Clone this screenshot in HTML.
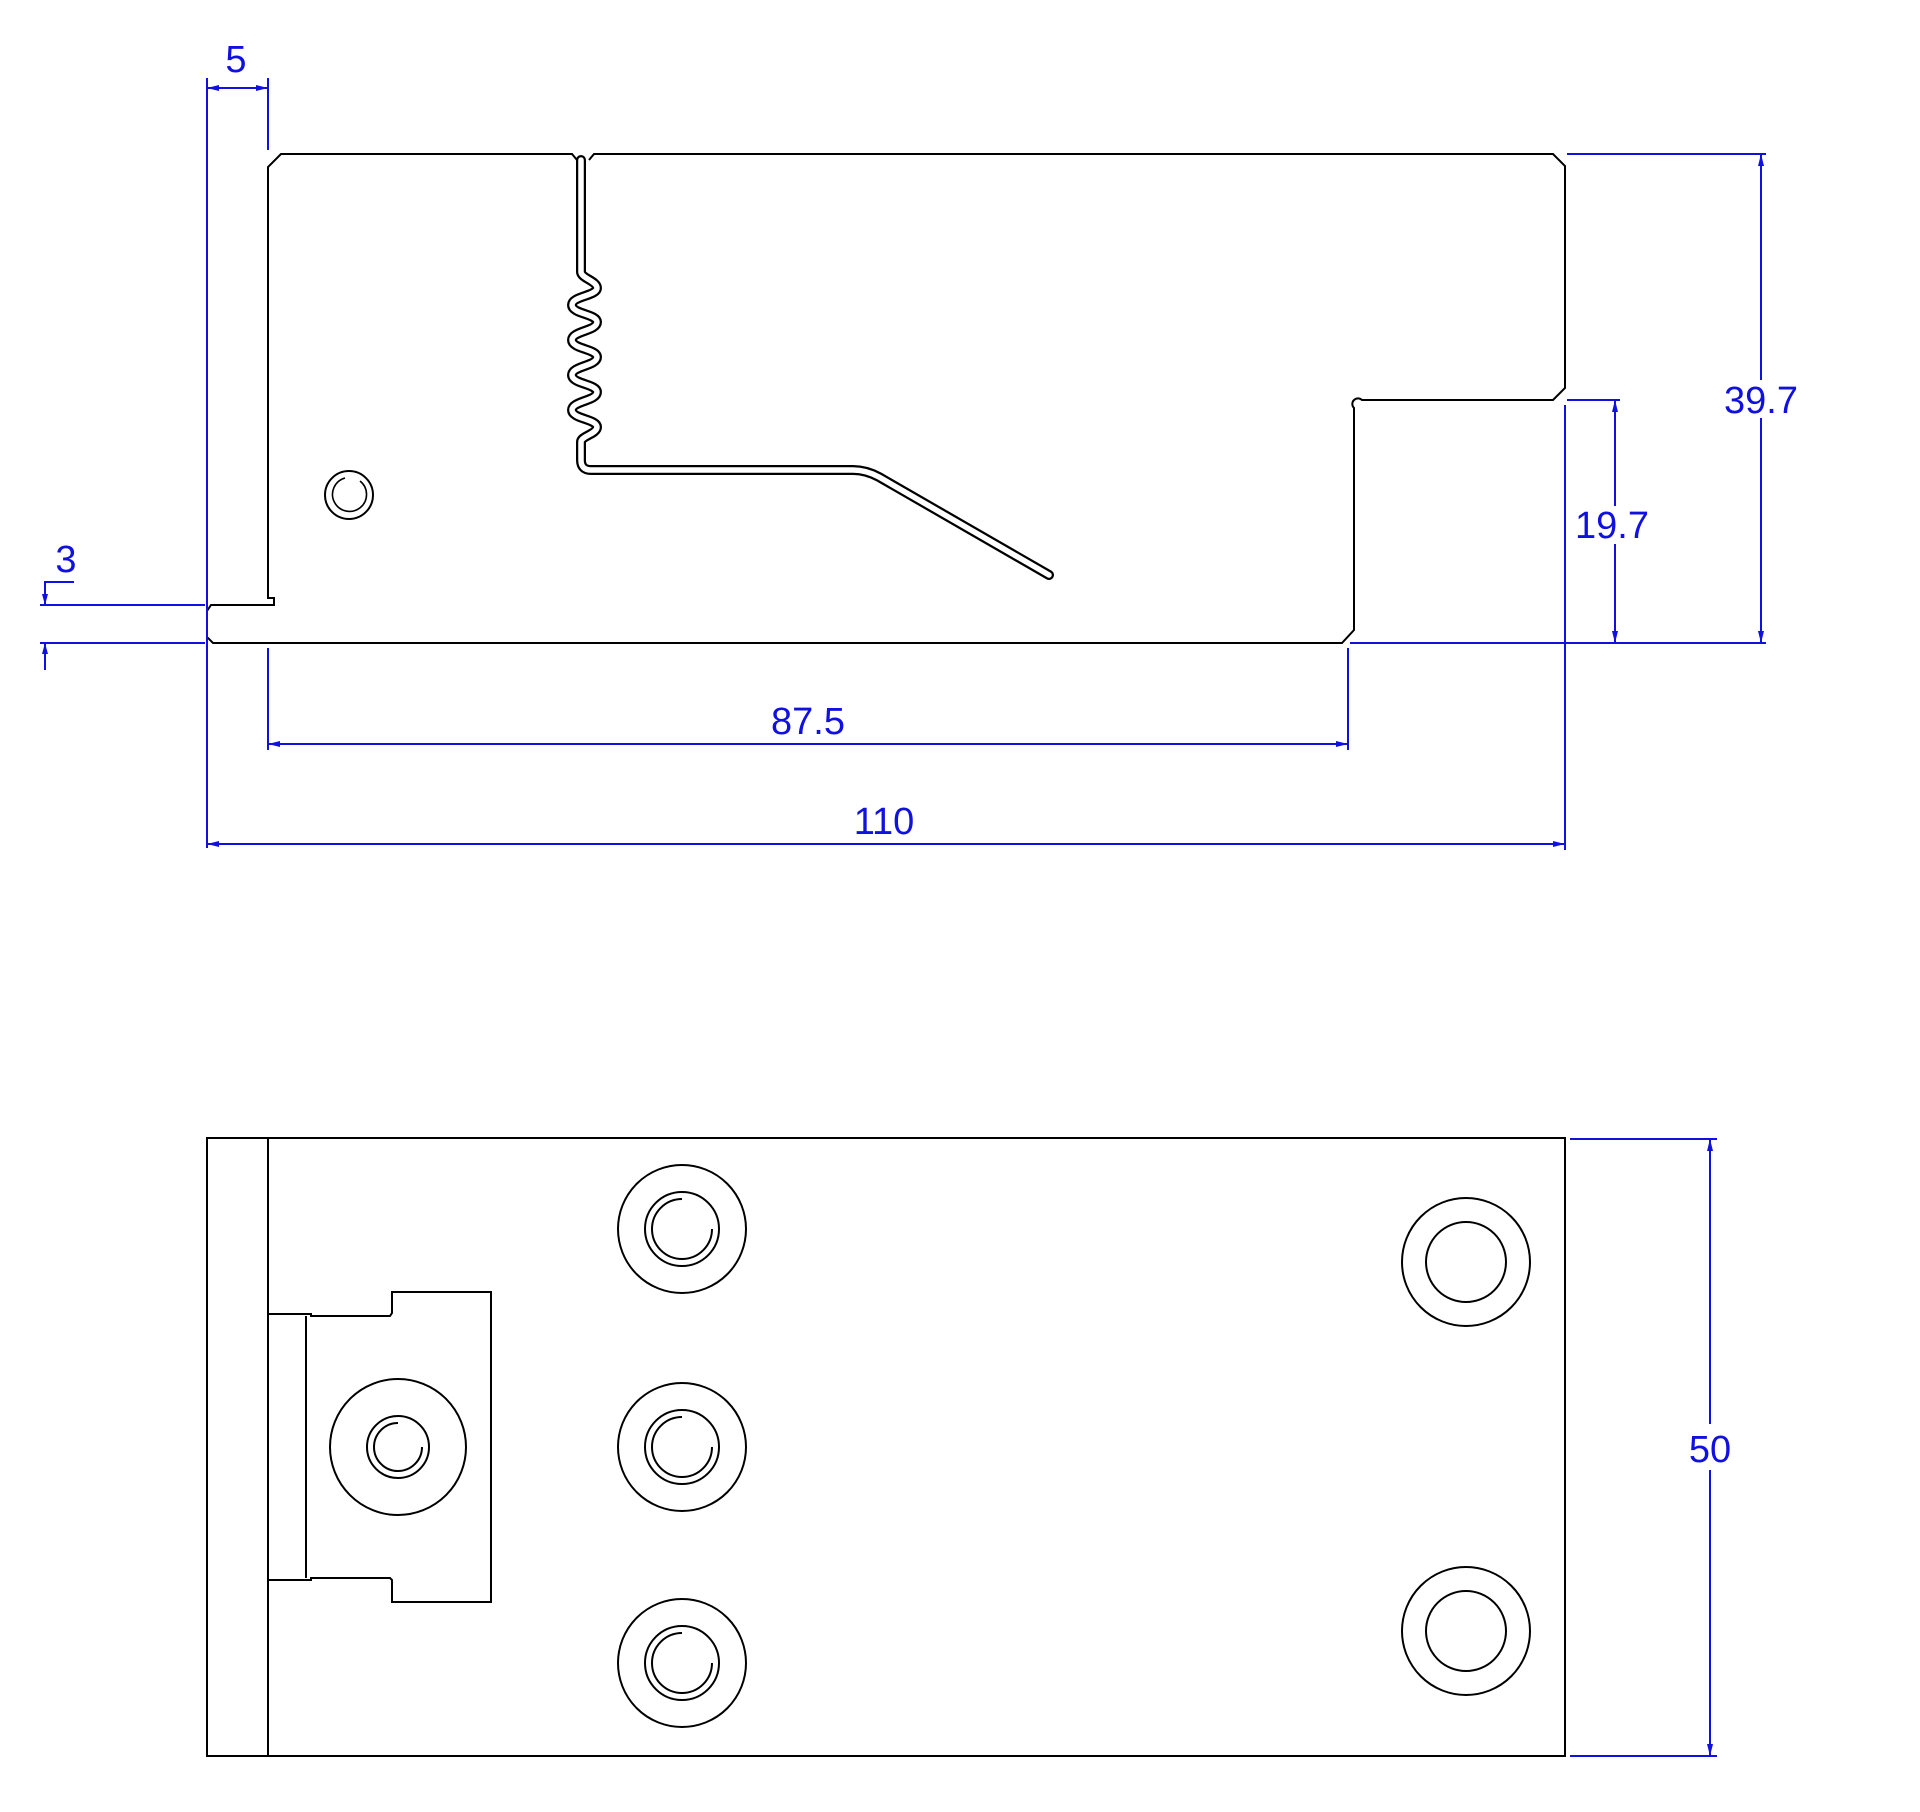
<!DOCTYPE html>
<html><head><meta charset="utf-8"><style>
html,body{margin:0;padding:0;background:#fff}
svg{display:block}
text{font-family:"Liberation Sans",sans-serif;fill:#1010e0;font-size:38px}
</style></head><body>
<svg width="1920" height="1812" viewBox="0 0 1920 1812" xmlns="http://www.w3.org/2000/svg">
<defs>
<path id="slot" d="M581 160 L581 272 C581 278 597 281 597 288 C597 296 572 296 572 305 C572 314 597 314 597 322 C597 331 572 331 572 340 C572 349 597 349 597 357 C597 366 572 366 572 375 C572 384 597 384 597 392 C597 401 572 401 572 410 C572 419 597 419 597 427 C597 434 581 436 581 442 L581 460 Q581 470 591 470 L853 470 Q866 470 879 477 L1049 575"/>
</defs>
<g fill="none" stroke="#000" stroke-width="2">
<!-- top view outline -->
<path d="M577 160 L572 154 L281 154 L268 167 L268 598 L274 598 L274 605 L211 605 L207 611 L207 637 L213 643 L1342 643 L1354 630 L1354 408 A5 5 0 1 1 1362 400 L1553 400 L1565 388 L1565 166 L1553 154 L594 154 L589 160"/>
<use href="#slot" stroke="#000" stroke-width="10" stroke-linecap="round" stroke-linejoin="round"/>
<use href="#slot" stroke="#fff" stroke-width="5.5" stroke-linecap="round" stroke-linejoin="round"/>
<circle cx="349" cy="495" r="24"/>
<path d="M360 481 A17 17 0 1 1 345 478" stroke-width="1.6"/>
<!-- bottom view -->
<rect x="207" y="1138" width="1358" height="618"/>
<line x1="268" y1="1138" x2="268" y2="1756"/>
<path d="M268 1314 L311 1314 L311 1316 L390 1316 L392 1313 L392 1292 L491 1292 L491 1602 L392 1602 L392 1580 L390 1578 L311 1578 L311 1580 L268 1580"/>
<path d="M306 1316 L306 1578"/>
<circle cx="398" cy="1447" r="68"/>
<circle cx="398" cy="1447" r="31"/>
<path d="M398 1423 A24 24 0 1 0 422 1447"/>
<g id="h1"><circle cx="682" cy="1229" r="64"/><circle cx="682" cy="1229" r="37"/><path d="M682 1199 A30 30 0 1 0 712 1229"/></g>
<use href="#h1" y="218"/>
<use href="#h1" y="434"/>
<circle cx="1466" cy="1262" r="64"/><circle cx="1466" cy="1262" r="40"/>
<circle cx="1466" cy="1631" r="64"/><circle cx="1466" cy="1631" r="40"/>
</g>
<g fill="none" stroke="#1010e0" stroke-width="2">
<line x1="207" y1="78" x2="207" y2="848"/>
<line x1="268" y1="78" x2="268" y2="150"/>
<line x1="268" y1="648" x2="268" y2="750"/>
<line x1="207" y1="88" x2="268" y2="88"/>
<line x1="40" y1="605" x2="205" y2="605"/>
<line x1="40" y1="643" x2="205" y2="643"/>
<path d="M45 605 L45 582 L74 582"/>
<line x1="45" y1="643" x2="45" y2="670"/>
<line x1="268" y1="744" x2="1348" y2="744"/>
<line x1="1348" y1="648" x2="1348" y2="750"/>
<line x1="207" y1="844" x2="1565" y2="844"/>
<line x1="1565" y1="405" x2="1565" y2="850"/>
<line x1="1567" y1="154" x2="1766" y2="154"/>
<line x1="1350" y1="643" x2="1766" y2="643"/>
<line x1="1761" y1="154" x2="1761" y2="380"/>
<line x1="1761" y1="418" x2="1761" y2="643"/>
<line x1="1567" y1="400" x2="1620" y2="400"/>
<line x1="1615" y1="400" x2="1615" y2="506"/>
<line x1="1615" y1="544" x2="1615" y2="643"/>
<line x1="1570" y1="1139" x2="1717" y2="1139"/>
<line x1="1570" y1="1756" x2="1717" y2="1756"/>
<line x1="1710" y1="1139" x2="1710" y2="1424"/>
<line x1="1710" y1="1470" x2="1710" y2="1756"/>
</g>
<g fill="#1010e0">
<path d="M207 88 l12 -3 v6 z M268 88 l-12 -3 v6 z"/>
<path d="M45 605 l-3 -11 h6 z M45 643 l-3 11 h6 z"/>
<path d="M268 744 l12 -3 v6 z M1348 744 l-12 -3 v6 z"/>
<path d="M207 844 l12 -3 v6 z M1565 844 l-12 -3 v6 z"/>
<path d="M1761 154 l-3 12 h6 z M1761 643 l-3 -12 h6 z"/>
<path d="M1615 400 l-3 12 h6 z M1615 643 l-3 -12 h6 z"/>
<path d="M1710 1139 l-3 12 h6 z M1710 1756 l-3 -12 h6 z"/>
</g>
<text x="236" y="72" text-anchor="middle">5</text>
<text x="66" y="572" text-anchor="middle">3</text>
<text x="808" y="734" text-anchor="middle">87.5</text>
<text x="884" y="834" text-anchor="middle">110</text>
<text x="1761" y="413" text-anchor="middle">39.7</text>
<text x="1612" y="538" text-anchor="middle">19.7</text>
<text x="1710" y="1462" text-anchor="middle">50</text>
</svg>
</body></html>
